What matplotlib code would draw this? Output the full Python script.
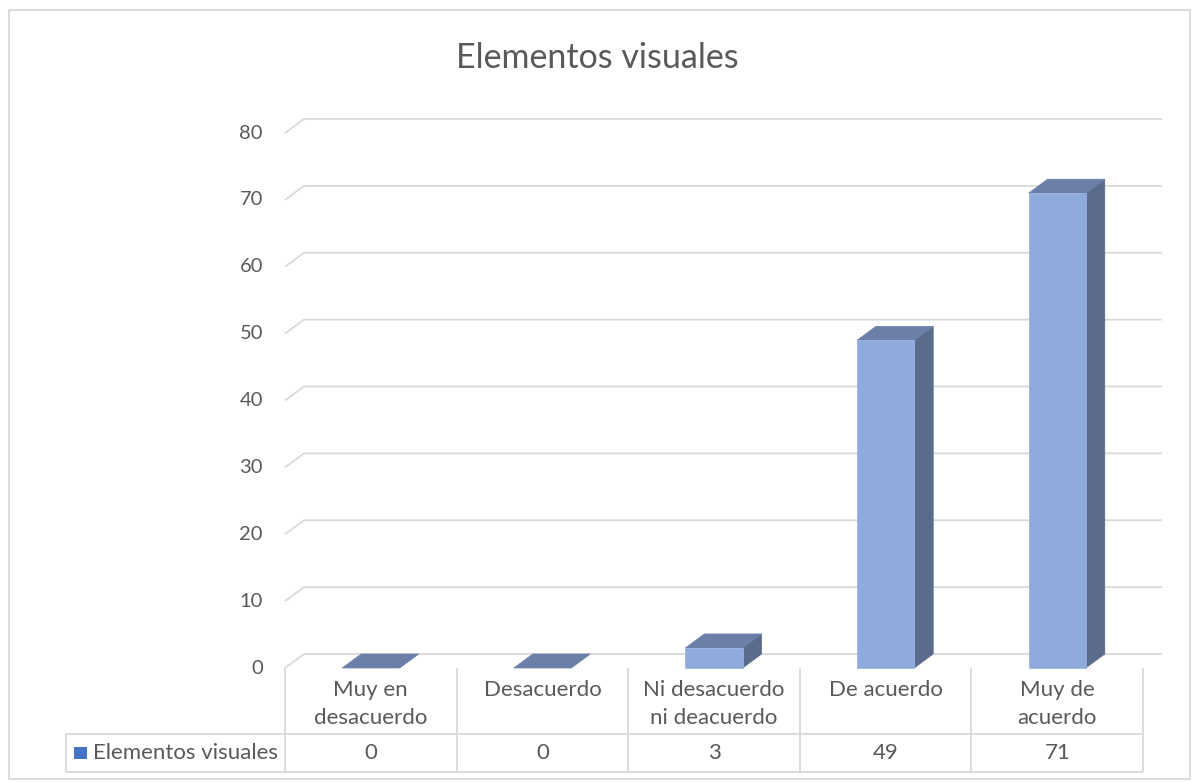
import matplotlib
matplotlib.use("Agg")
import matplotlib.pyplot as plt
from matplotlib.patches import Rectangle, Polygon
import matplotlib.transforms as mtransforms

categories = ["Muy en\ndesacuerdo", "Desacuerdo", "Ni desacuerdo\nni deacuerdo",
              "De acuerdo", "Muy de\nacuerdo"]
values = [0, 0, 3, 49, 71]
series_name = "Elementos visuales"
title = "Elementos visuales"
y_ticks = [0, 10, 20, 30, 40, 50, 60, 70, 80]

W, H = 1194, 782
TXT = "#595959"
GRID = "#D9D9D9"
FRONT = "#8FAADC"
TOP = "#6B7FA9"
SIDE = "#5B6B8C"
LEG = "#4472C4"
FONT = "Lato"
FS = 16

# pixel layout (front plane of the plot area)
PX_L, PX_R, PX_B, PX_T = 285, 1143, 668, 133
DEPTH_X, DEPTH_Y = 19, 14   # 3-D depth offset in pixels

fig = plt.figure(figsize=(W / 100, H / 100), dpi=100)
fig.patch.set_facecolor("white")
ax = fig.add_axes([PX_L / W, 1 - PX_B / H, (PX_R - PX_L) / W, (PX_B - PX_T) / H])
ax.set_xlim(-0.5, len(categories) - 0.5)
ax.set_ylim(0, 80)
ax.axis("off")

px_cat = (PX_R - PX_L) / len(categories)
px_val = (PX_B - PX_T) / 80
ddx = DEPTH_X / px_cat
ddy = DEPTH_Y / px_val
x_lo, x_hi = -0.5, len(categories) - 0.5

# back-wall gridlines with the slanted left edge
for t in y_ticks:
    ax.plot([x_lo, x_lo + ddx, x_hi + ddx], [t, t + ddy, t + ddy],
            color=GRID, lw=1.3, clip_on=False, zorder=1, solid_capstyle="butt")
    ax.text(x_lo - 22 / px_cat, t, str(t), ha="right", va="center",
            fontsize=14.5, color=TXT, family=FONT)

# 3-D style bars
bw = 1 / 3
for i, v in enumerate(values):
    x0, x1 = i - bw / 2, i + bw / 2
    ax.add_patch(Polygon([(x1, 0), (x1 + ddx, ddy), (x1 + ddx, v + ddy), (x1, v)],
                         closed=True, fc=SIDE, ec=SIDE, lw=0.5, zorder=3, clip_on=False))
    ax.add_patch(Polygon([(x0, v), (x1, v), (x1 + ddx, v + ddy), (x0 + ddx, v + ddy)],
                         closed=True, fc=TOP, ec=TOP, lw=0.5, zorder=3, clip_on=False))
    if v > 0:
        ax.add_patch(Rectangle((x0, 0), bw, v, fc=FRONT, ec="#9DB5E0", lw=0.6,
                               zorder=4, clip_on=False))

# title
fig.text(597 / W, 1 - 58 / H, title, ha="center", va="center", fontsize=24.5,
         color=TXT, family=FONT)

# data table under the plot
tr = mtransforms.blended_transform_factory(ax.transData, fig.transFigure)
def fy(py):
    return 1 - py / H

ROW_TOP, ROW_MID, ROW_BOT = 668, 734, 772
TAB_L = 66
line_kw = dict(color=GRID, lw=1.3, solid_capstyle="butt")
fig.add_artist(plt.Line2D([TAB_L / W, PX_R / W], [fy(ROW_MID)] * 2,
                          transform=fig.transFigure, **line_kw))
fig.add_artist(plt.Line2D([TAB_L / W, PX_R / W], [fy(ROW_BOT)] * 2,
                          transform=fig.transFigure, **line_kw))
fig.add_artist(plt.Line2D([TAB_L / W] * 2, [fy(ROW_MID), fy(ROW_BOT)],
                          transform=fig.transFigure, **line_kw))
for k in range(len(categories) + 1):
    xb = x_lo + k
    ax.add_artist(plt.Line2D([xb, xb], [fy(ROW_TOP), fy(ROW_BOT)], transform=tr,
                             clip_on=False, **line_kw))

for i, (c, v) in enumerate(zip(categories, values)):
    ax.text(i, fy(680), c, transform=tr, ha="center", va="top", fontsize=FS,
            color=TXT, family=FONT, linespacing=1.5)
    ax.text(i, fy(753), str(v), transform=tr, ha="center", va="center",
            fontsize=FS, color=TXT, family=FONT)

fig.add_artist(Rectangle((74 / W, fy(759)), 13 / W, 12 / H, transform=fig.transFigure,
                         fc=LEG, ec="none"))
fig.text(93 / W, fy(753), series_name, ha="left", va="center", fontsize=FS,
         color=TXT, family=FONT)

# outer chart border
fig.add_artist(Rectangle((9 / W, fy(779)), 1181 / W, 769 / H, transform=fig.transFigure,
                         fill=False, ec=GRID, lw=1.3))

fig.savefig("out.png", dpi=100)
